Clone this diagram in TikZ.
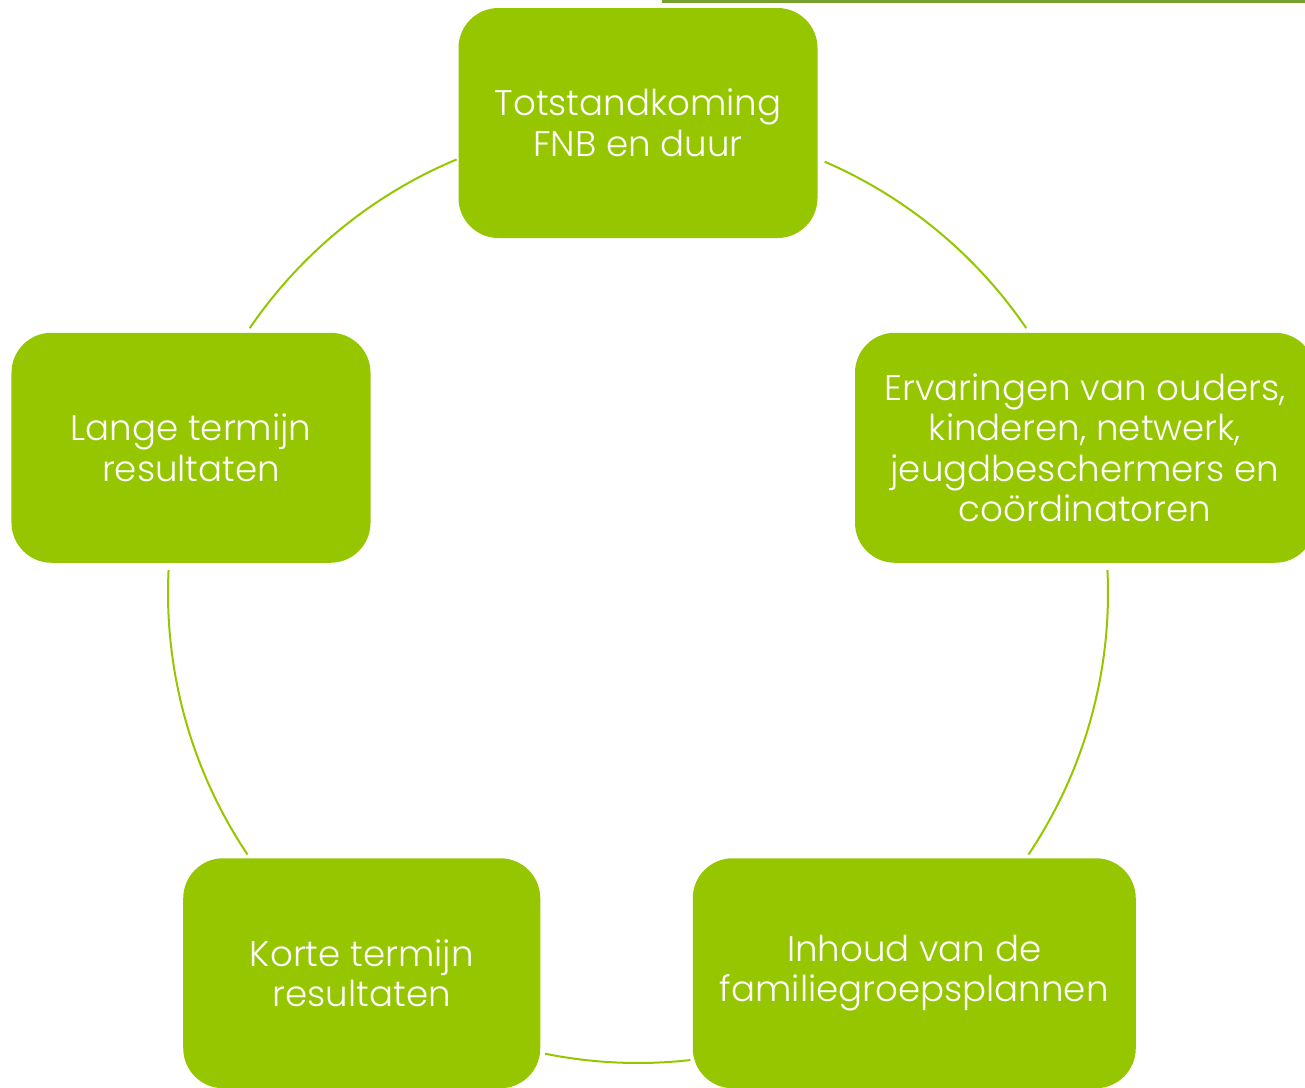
\documentclass[tikz,border=0pt]{standalone}
\usepackage{fontspec}
\IfFontExistsTF{Poppins Light}{\setmainfont{Poppins Light}}{\setmainfont{Poppins}}
\usetikzlibrary{calc}
\definecolor{leaf}{HTML}{95C600}
\definecolor{moss}{HTML}{77A22D}

\begin{document}
\begin{tikzpicture}[
	x=0.5pt, y=0.5pt,
	phase/.style={rectangle, rounded corners=20pt, fill=leaf, text=white,
		minimum width=179.5pt, minimum height=115pt, inner sep=2pt, align=center,
		font=\fontsize{17.8}{20.3}\selectfont},
	ring/.style={leaf, line width=1pt},
	frame/.style={moss, line width=1.5pt}
	]
	\useasboundingbox (0,0) rectangle (1305,-1087);
	\coordinate (ctr) at (638,-593);

	\node[phase] (totstand) at ($(ctr)+(90:470)$) {Totstandkoming\\FNB en duur};
	\node[phase, minimum width=230pt] (ervaring) at ($(ctr)+(18:470)$) {Ervaringen van ouders,\\kinderen, netwerk,\\jeugdbeschermers en\\coördinatoren};
	\node[phase, minimum width=221.5pt] (inhoud) at ($(ctr)+(-54:470)$) {Inhoud van de\\familiegroepsplannen};
	\node[phase, minimum width=178.5pt] (kort) at ($(ctr)+(-126:470)$) {Korte termijn\\resultaten};
	\node[phase] (lang) at ($(ctr)+(162:470)$) {Lange termijn\\resultaten};

	% ring between the phases
	\foreach \a/\b in {34.3/66.6, 112.7/145.7, 177.2/213.8, 258.6/276.4, -33.8/2.8}
		\draw[ring] (ctr) ++(\a:470) arc[start angle=\a, end angle=\b, radius=235pt];

	\draw[frame] (663,10) -- (663,-1.5) -- (1320,-1.5);
\end{tikzpicture}
\end{document}
